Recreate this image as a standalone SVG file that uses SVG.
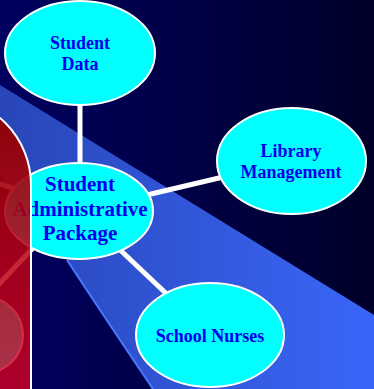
<svg xmlns="http://www.w3.org/2000/svg" width="374" height="389" viewBox="0 0 374 389">
  <defs>
    <linearGradient id="bg" x1="0" y1="0" x2="1" y2="0">
      <stop offset="0" stop-color="#000060"/>
      <stop offset="1" stop-color="#00002a"/>
    </linearGradient>
    <linearGradient id="beam" gradientUnits="userSpaceOnUse" x1="0" y1="0" x2="374" y2="0">
      <stop offset="0" stop-color="#2846b8"/>
      <stop offset="1" stop-color="#3a66f8"/>
    </linearGradient>
    <linearGradient id="red" gradientUnits="userSpaceOnUse" x1="0" y1="100" x2="0" y2="389">
      <stop offset="0" stop-color="#8c0000" stop-opacity="0.97"/>
      <stop offset="0.5" stop-color="#b80010" stop-opacity="0.86"/>
      <stop offset="1" stop-color="#d80020" stop-opacity="0.8"/>
    </linearGradient>
  </defs>
  <style>
    .node { fill: #00ffff; stroke: #ffffff; stroke-width: 2; }
    .label { font-family: "Liberation Serif", "Times New Roman", serif; font-weight: bold; fill: #0000ee; text-anchor: middle; }
    .conn { stroke: #ffffff; stroke-width: 5; fill: none; }
  </style>

  <!-- background -->
  <rect x="0" y="0" width="374" height="389" fill="url(#bg)"/>
  <path d="M0,85 L374,315 L374,389 L153,389 Q105,318 67,260 L0,175 Z" fill="url(#beam)"/>
  <path d="M153,389 Q105,318 67,260" fill="none" stroke="#4a78ff" stroke-width="2"/>

  <!-- connectors -->
  <g id="connectors">
    <line class="conn" x1="80" y1="53" x2="80" y2="211"/>
    <line class="conn" x1="79" y1="211" x2="291" y2="161"/>
    <line class="conn" x1="79" y1="211" x2="210" y2="335"/>
    <line class="conn" x1="79" y1="199" x2="-16" y2="300"/>
    <line class="conn" x1="79" y1="211" x2="-40" y2="170"/>
  </g>

  <g id="node-left">
    <circle class="node" cx="-15" cy="335" r="38"/>
  </g>

  <g id="node-student-data">
    <ellipse class="node" cx="80" cy="53" rx="75" ry="52"/>
    <text class="label" font-size="18" x="80" y="49">Student</text>
    <text class="label" font-size="18" x="80" y="70">Data</text>
  </g>

  <g id="node-library">
    <ellipse class="node" cx="291.5" cy="161" rx="74.5" ry="53"/>
    <text class="label" font-size="18" x="291" y="157">Library</text>
    <text class="label" font-size="18" x="291" y="178">Management</text>
  </g>

  <g id="node-nurses">
    <ellipse class="node" cx="210" cy="335" rx="74" ry="52"/>
    <text class="label" font-size="18" x="210" y="342">School Nurses</text>
  </g>

  <g id="node-central">
    <ellipse class="node" cx="79" cy="211" rx="74" ry="48"/>
    <text class="label" font-size="21" x="80" y="191">Student</text>
    <text class="label" font-size="21" x="80" y="216">Administrative</text>
    <text class="label" font-size="21" x="80" y="240">Package</text>
  </g>

  <!-- red overlay panel -->
  <rect x="-145" y="97" width="176" height="400" rx="88" ry="88" fill="url(#red)" stroke="#ffffff" stroke-width="2"/>
</svg>
